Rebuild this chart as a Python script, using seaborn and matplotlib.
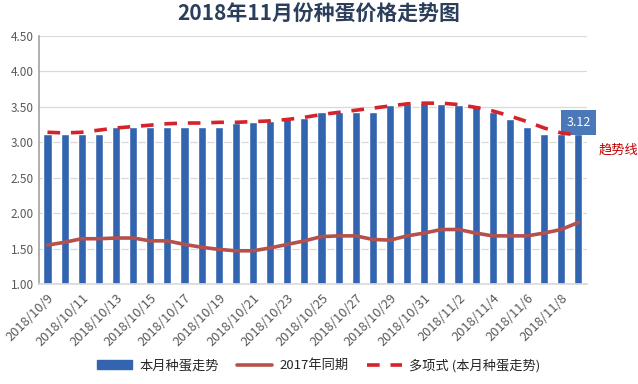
import pandas as pd
import seaborn as sns
import matplotlib.pyplot as plt
from matplotlib.lines import Line2D
from matplotlib.patches import Patch

# dates 2018/10/9 .. 2018/11/9
dates = [f"2018/10/{d}" for d in range(9, 32)] + [f"2018/11/{d}" for d in range(1, 10)]

price_2018 = [3.12, 3.12, 3.12, 3.12, 3.22, 3.22, 3.22, 3.22, 3.22, 3.22, 3.22,
              3.27, 3.28, 3.30, 3.32, 3.34, 3.43, 3.43, 3.43, 3.43, 3.52, 3.54,
              3.55, 3.54, 3.52, 3.52, 3.42, 3.33, 3.22, 3.12, 3.12, 3.12]

price_2017 = [1.55, 1.59, 1.64, 1.64, 1.65, 1.65, 1.61, 1.61, 1.56, 1.52, 1.49,
              1.47, 1.47, 1.51, 1.56, 1.61, 1.67, 1.68, 1.68, 1.63, 1.62, 1.68,
              1.72, 1.77, 1.77, 1.72, 1.68, 1.68, 1.68, 1.72, 1.77, 1.87]

trend = [3.14, 3.13, 3.14, 3.17, 3.20, 3.22, 3.24, 3.26, 3.27, 3.27, 3.28,
         3.28, 3.29, 3.30, 3.32, 3.35, 3.39, 3.42, 3.45, 3.48, 3.51, 3.54,
         3.55, 3.55, 3.53, 3.49, 3.44, 3.37, 3.29, 3.20, 3.13, 3.10]

sns.set_theme(style="white")
plt.rcParams['font.family'] = ['Noto Sans CJK SC', 'DejaVu Sans']
plt.rcParams['axes.unicode_minus'] = False

BAR = "#3264b0"
LINE17 = "#b5504c"
TREND = "#d4232a"

df = pd.DataFrame({"date": dates, "price": price_2018,
                   "last_year": price_2017, "trend": trend})
df["pos"] = range(len(df))

fig = plt.figure(figsize=(6.38, 3.84), dpi=100)
ax = fig.add_axes([0.061, 0.260, 0.859, 0.647])

sns.barplot(data=df, x="date", y="price", color=BAR, width=0.47,
            saturation=1, ax=ax, zorder=2)
sns.lineplot(data=df, x="pos", y="last_year", color=LINE17, lw=2.6,
             ax=ax, zorder=3)
sns.lineplot(data=df, x="pos", y="trend", color=TREND, lw=2.6,
             dashes=False, ax=ax, zorder=4).lines[-1].set_dashes((3.5, 3))

ax.set_ylim(1.0, 4.5)
ax.set_yticks([1.0, 1.5, 2.0, 2.5, 3.0, 3.5, 4.0, 4.5])
ax.set_yticklabels([f"{v:.2f}" for v in ax.get_yticks()])
ax.set_xlim(-0.5, len(dates) - 0.5)
ax.set_xticks(range(0, len(dates), 2))
ax.set_xticklabels(dates[::2], rotation=45, ha="right", rotation_mode="anchor")
ax.set_xlabel("")
ax.set_ylabel("")
ax.grid(axis="y", color="#d9d9d9", lw=0.9, zorder=0)
ax.tick_params(axis="both", length=0, colors="#595959")
ax.tick_params(axis="y", labelsize=8.5)
ax.tick_params(axis="x", labelsize=9.3, pad=5)
for s in ["top", "right"]:
    ax.spines[s].set_visible(False)
ax.spines["left"].set_color("#a6a6a6")
ax.spines["bottom"].set_color("#d9d9d9")

# last value label
ax.annotate("3.12", xy=(len(dates) - 1, price_2018[-1]), xytext=(0, 8),
            textcoords="offset points", ha="center", va="center",
            fontsize=9, color="white",
            bbox=dict(boxstyle="square,pad=0.45", fc="#4a78b8", ec="none"))
fig.text(0.938, 0.608, "趋势线", color="#c00000", fontsize=9.5,
         ha="left", va="center")

fig.suptitle("2018年11月份种蛋价格走势图", x=0.5, y=0.99, fontsize=15,
             fontweight="bold", color="#2b3f5c")

handles = [Patch(color=BAR),
           Line2D([], [], color=LINE17, lw=2.6),
           Line2D([], [], color=TREND, lw=2.6, dashes=(3.5, 3))]
labels = ["本月种蛋走势", "2017年同期", "多项式 (本月种蛋走势)"]
fig.legend(handles, labels, loc="center", bbox_to_anchor=(0.5, 0.048),
           ncol=3, frameon=False, fontsize=9.5, handlelength=2.6,
           columnspacing=1.4, handletextpad=0.6)

plt.savefig("out.png", dpi=100)
